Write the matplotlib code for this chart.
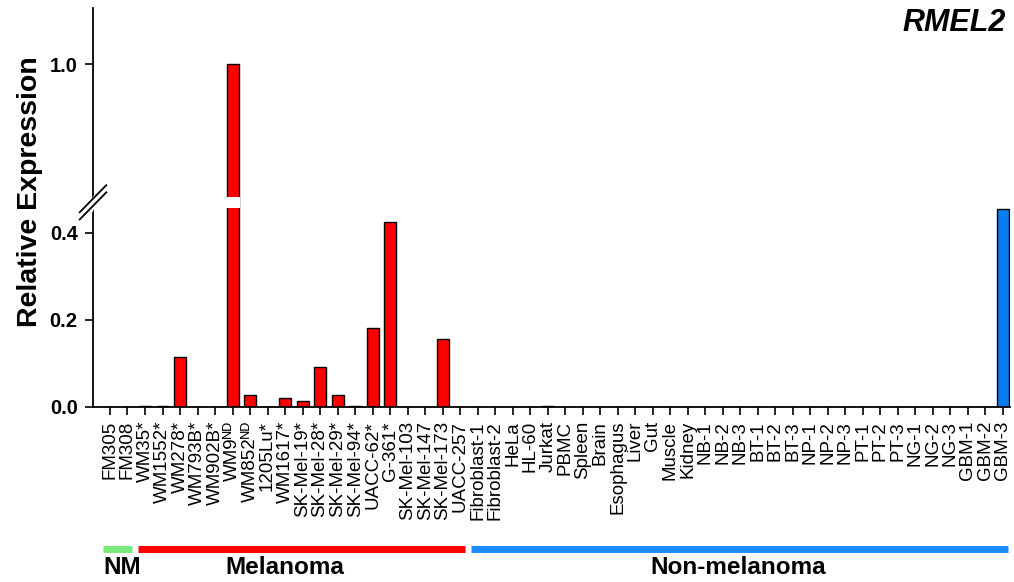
import numpy as np
import matplotlib.pyplot as plt
import matplotlib.transforms as mtransforms
from matplotlib.lines import Line2D

plt.rcParams['font.family'] = ['Liberation Sans', 'DejaVu Sans']

# categories
nm_lines = ['FM305', 'FM308']
mel_lines = ['WM35*', 'WM1552*', 'WM278*', 'WM793B*', 'WM902B*',
             'WM9\u1d3a\u1d30', 'WM852\u1d3a\u1d30', '1205Lu*', 'WM1617*',
             'SK-Mel-19*', 'SK-Mel-28*', 'SK-Mel-29*', 'SK-Mel-94*', 'UACC-62*',
             'G-361*', 'SK-Mel-103', 'SK-Mel-147', 'SK-Mel-173', 'UACC-257']
non_mel = ['Fibroblast-1', 'Fibroblast-2', 'HeLa', 'HL-60', 'Jurkat', 'PBMC',
           'Spleen', 'Brain', 'Esophagus', 'Liver', 'Gut', 'Muscle', 'Kidney',
           'NB-1', 'NB-2', 'NB-3', 'BT-1', 'BT-2', 'BT-3', 'NP-1', 'NP-2', 'NP-3',
           'PT-1', 'PT-2', 'PT-3', 'NG-1', 'NG-2', 'NG-3', 'GBM-1', 'GBM-2', 'GBM-3']

# relative expression values
nm_vals = [0.0, 0.0]
mel_vals = [0.002, 0.002, 0.115, 0.0, 0.0, 1.0, 0.028, 0.0, 0.02,
            0.014, 0.092, 0.028, 0.002, 0.182, 0.425, 0.0, 0.0, 0.156, 0.0]
non_vals = [0.0, 0.0, 0.0, 0.0, 0.002, 0.0, 0.0, 0.0, 0.0, 0.0, 0.0, 0.0, 0.0,
            0.0, 0.0, 0.0, 0.0, 0.0, 0.0, 0.0, 0.0, 0.0, 0.0, 0.0, 0.0,
            0.0, 0.0, 0.0, 0.0, 0.0, 0.455]

labels = nm_lines + mel_lines + non_mel
values = nm_vals + mel_vals + non_vals
colors = ['red'] * (len(nm_lines) + len(mel_lines)) + ['#0a7cf0'] * len(non_mel)
x = np.arange(len(labels))

# broken y axis: collapse 0.47 .. 0.682
brk_lo, brk_hi = 0.47, 0.682
shift = brk_hi - brk_lo

def fwd(y):
    y = np.asarray(y, float)
    return np.where(y <= brk_lo, y, np.where(y >= brk_hi, y - shift, brk_lo))

def inv(t):
    t = np.asarray(t, float)
    return np.where(t <= brk_lo, t, t + shift)

fig = plt.figure(figsize=(10.14, 5.82), dpi=100)
ax = fig.add_axes([93 / 1014, 1 - 407 / 582, 917 / 1014, 399 / 582])
ax.set_yscale('function', functions=(fwd, inv))

ax.bar(x, values, width=0.68, color=colors, edgecolor='black', linewidth=1.0, zorder=2)
# gap in the bar that goes through the break
big = [i for i, v in enumerate(values) if v > brk_hi]
ax.bar(big, [0.694 - 0.458] * len(big), bottom=0.458, width=0.9, color='white',
       linewidth=0, zorder=3)

ax.set_xlim(-0.97, len(labels) - 0.6)
ax.set_ylim(0, 1.129)
ax.set_yticks([0, 0.2, 0.4, 1.0])
ax.set_yticklabels(['0.0', '0.2', '0.4', '1.0'], fontsize=14.5, fontweight='bold')
ax.set_xticks(x)
ax.set_xticklabels(labels, rotation=90, fontsize=13.5)
ax.tick_params(axis='both', direction='out', length=6, width=1.2, color='black')
ax.tick_params(axis='x', pad=4)
ax.tick_params(axis='y', pad=5)
for s in ['top', 'right']:
    ax.spines[s].set_visible(False)
for s in ['left', 'bottom']:
    ax.spines[s].set_linewidth(1.3)

ax.set_ylabel('Relative Expression', fontsize=20.5, fontweight='bold')
ax.yaxis.set_label_coords(-0.054, 0.54)
ax.text(0.995, 0.963, 'RMEL2', transform=ax.transAxes, ha='right', va='center',
        fontsize=22, fontweight='bold', fontstyle='italic')

# axis break marks
yb = 0.513
ax.add_line(Line2D([-0.004, 0.006], [yb - 0.02, yb + 0.02], transform=ax.transAxes,
                   color='white', lw=5, clip_on=False, zorder=5))
for off in (-0.009, 0.009):
    ax.add_line(Line2D([-0.0145, 0.0145], [yb - 0.034 + off, yb + 0.034 + off],
                       transform=ax.transAxes, color='black', lw=1.3,
                       clip_on=False, zorder=6))

# group bars under the labels
trans = mtransforms.blended_transform_factory(ax.transData, ax.transAxes)
groups = [('NM', 0, len(nm_lines) - 1, '#7be87b'),
          ('Melanoma', len(nm_lines), len(nm_lines) + len(mel_lines) - 1, 'red'),
          ('Non-melanoma', len(nm_lines) + len(mel_lines), len(labels) - 1, '#1a8cff')]
for name, a, b, c in groups:
    ax.add_line(Line2D([a - 0.38, b + 0.28], [-0.356, -0.356], transform=trans,
                       color=c, lw=5, clip_on=False, solid_capstyle='butt'))
ax.text(-0.4, -0.403, 'NM', transform=trans, ha='left', va='center',
        fontsize=17.5, fontweight='bold')
ax.text(10, -0.403, 'Melanoma', transform=trans, ha='center', va='center',
        fontsize=17.5, fontweight='bold')
ax.text(35.9, -0.403, 'Non-melanoma', transform=trans, ha='center', va='center',
        fontsize=17.5, fontweight='bold')

fig.savefig('out.png', dpi=100)
